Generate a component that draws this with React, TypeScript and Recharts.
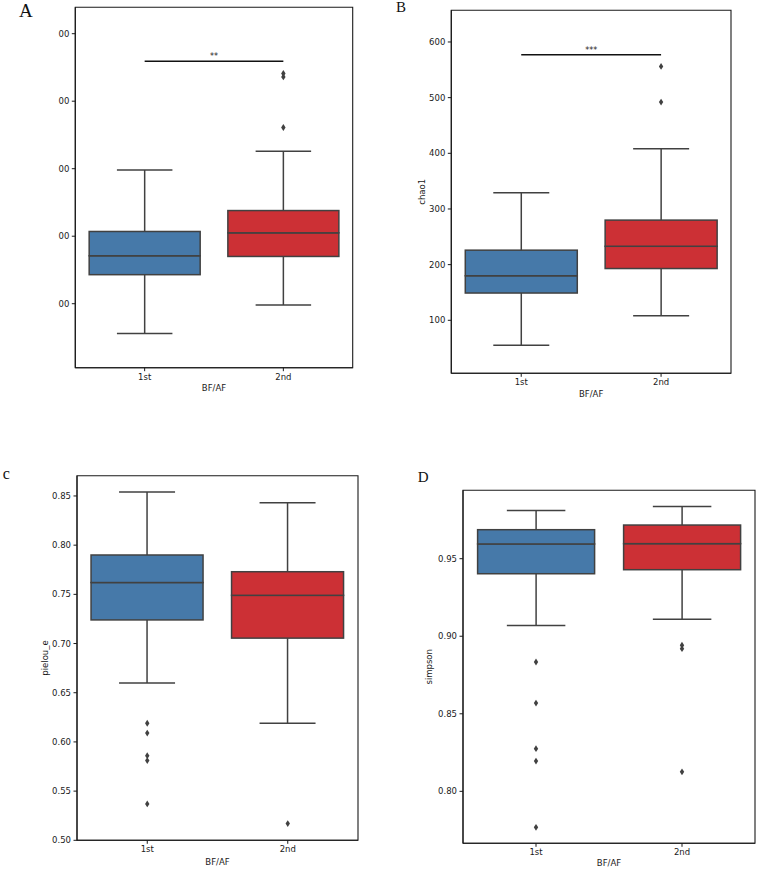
import React from "react";
import {
  ComposedChart,
  Bar,
  Cell,
  Scatter,
  XAxis,
  YAxis,
  ReferenceLine,
  ReferenceArea,
} from "recharts";

// ─── Data ─────────────────────────────────────────────────────────────────────

const GROUPS = ["1st", "2nd"];

// [low whisker, Q1, median, Q3, high whisker] per group
const A_STATS = [[56, 143, 171, 207, 298], [98, 170, 205, 238, 326]];
const A_OUTLIERS = [[], [436, 441, 361]];
const A_TICKS = [100, 200, 300, 400, 500];

const B_STATS = [[55, 149, 180, 226, 329], [108, 193, 233, 280, 408]];
const B_OUTLIERS = [[], [556, 492]];
const B_TICKS = [100, 200, 300, 400, 500, 600];

const C_STATS = [[0.660, 0.724, 0.762, 0.790, 0.854], [0.619, 0.7055, 0.749, 0.773, 0.843]];
const C_OUTLIERS = [[0.619, 0.609, 0.586, 0.581, 0.537], [0.517]];
const C_TICKS = [0.5, 0.55, 0.6, 0.65, 0.7, 0.75, 0.8, 0.85];

const D_STATS = [[0.907, 0.9403, 0.9595, 0.9687, 0.981], [0.911, 0.9429, 0.9597, 0.9717, 0.9836]];
const D_OUTLIERS = [[0.8834, 0.8569, 0.8275, 0.8195, 0.7768], [0.8942, 0.892, 0.8126]];
const D_TICKS = [0.8, 0.85, 0.9, 0.95];

// ─── Style ────────────────────────────────────────────────────────────────────

const BOX_COLORS = ["#4679a9", "#cc3035"];
const LINE = "#414141";
const INK = "#1a1a1a";
const FONT = "'DejaVu Sans', sans-serif";
const FS = 8.5;
const LW = 1.5;

const toRows = (stats: number[][]) =>
  stats.map(([lo, q1, med, q3, hi], i) => ({
    group: GROUPS[i],
    base: lo,
    wLow: q1 - lo,
    boxLow: med - q1,
    boxHigh: q3 - med,
    wHigh: hi - q3,
  }));

const toPoints = (outliers: number[][]) =>
  outliers.flatMap((vals, i) => vals.map((value) => ({ group: GROUPS[i], value })));

// ─── Shapes ───────────────────────────────────────────────────────────────────

const Hidden = () => <g />;

const WhiskerLow = (p: any) => {
  const cx = p.x + p.width / 2;
  const yb = p.y + p.height;
  return (
    <g>
      <line x1={cx} x2={cx} y1={p.y} y2={yb} stroke={LINE} strokeWidth={LW} />
      <line x1={cx - p.width / 4} x2={cx + p.width / 4} y1={yb} y2={yb} stroke={LINE} strokeWidth={LW} />
    </g>
  );
};

const WhiskerHigh = (p: any) => {
  const cx = p.x + p.width / 2;
  return (
    <g>
      <line x1={cx} x2={cx} y1={p.y} y2={p.y + p.height} stroke={LINE} strokeWidth={LW} />
      <line x1={cx - p.width / 4} x2={cx + p.width / 4} y1={p.y} y2={p.y} stroke={LINE} strokeWidth={LW} />
    </g>
  );
};

const BoxPart = (p: any) => (
  <rect x={p.x} y={p.y} width={p.width} height={p.height} fill={p.fill} stroke={LINE} strokeWidth={LW} />
);

const Diamond = (p: any) => {
  const { cx, cy } = p;
  return <path d={`M${cx},${cy - 3.4}L${cx + 2.2},${cy}L${cx},${cy + 3.4}L${cx - 2.2},${cy}Z`} fill={LINE} />;
};

// ─── Panel ────────────────────────────────────────────────────────────────────

interface PanelProps {
  left: number; top: number; width: number; height: number;
  margin: { top: number; right: number; bottom: number; left: number };
  yWidth: number; xHeight: number;
  stats: number[][]; outliers: number[][];
  domain: [number, number]; ticks: number[];
  fmt: (v: number) => string;
  yLabel?: string; yLabelOffset?: number; xLabelOffset: number;
  sig?: { y: number; text: string };
}

const Panel = (cfg: PanelProps) => {
  const rows = toRows(cfg.stats);
  const points = toPoints(cfg.outliers);
  const tick = { fill: INK, fontSize: FS, fontFamily: FONT };
  const lblStyle = { fill: INK, fontSize: FS, fontFamily: FONT };

  return (
    <div style={{ position: "absolute", left: cfg.left, top: cfg.top }}>
      <ComposedChart width={cfg.width} height={cfg.height} data={rows} margin={cfg.margin} barCategoryGap="10%">
        <XAxis
          dataKey="group"
          type="category"
          allowDuplicatedCategory={false}
          interval={0}
          height={cfg.xHeight}
          tick={tick}
          tickSize={3.5}
          tickMargin={2.5}
          tickLine={{ stroke: INK }}
          axisLine={{ stroke: INK, strokeWidth: 1.1 }}
          label={{ value: "BF/AF", position: "insideBottom", offset: cfg.xLabelOffset, style: lblStyle }}
        />
        <YAxis
          type="number"
          domain={cfg.domain}
          ticks={cfg.ticks}
          allowDataOverflow
          width={cfg.yWidth}
          tick={tick}
          tickFormatter={cfg.fmt}
          tickSize={3.5}
          tickMargin={2.5}
          tickLine={{ stroke: INK }}
          axisLine={{ stroke: INK, strokeWidth: 1.1 }}
          label={
            cfg.yLabel
              ? { value: cfg.yLabel, angle: -90, position: "insideLeft", offset: cfg.yLabelOffset, style: { ...lblStyle, textAnchor: "middle" } }
              : undefined
          }
        />

        <Bar dataKey="base" stackId="b" shape={Hidden} isAnimationActive={false} />
        <Bar dataKey="wLow" stackId="b" shape={WhiskerLow} isAnimationActive={false} />
        <Bar dataKey="boxLow" stackId="b" shape={BoxPart} isAnimationActive={false}>
          {rows.map((_r, i) => <Cell key={i} fill={BOX_COLORS[i]} />)}
        </Bar>
        <Bar dataKey="boxHigh" stackId="b" shape={BoxPart} isAnimationActive={false}>
          {rows.map((_r, i) => <Cell key={i} fill={BOX_COLORS[i]} />)}
        </Bar>
        <Bar dataKey="wHigh" stackId="b" shape={WhiskerHigh} isAnimationActive={false} />

        <Scatter data={points} dataKey="value" shape={Diamond} isAnimationActive={false} />

        {cfg.sig && (
          <ReferenceLine
            segment={[{ x: GROUPS[0], y: cfg.sig.y }, { x: GROUPS[1], y: cfg.sig.y }]}
            stroke="#111"
            strokeWidth={LW}
            label={{ value: cfg.sig.text, position: "top", offset: 2, style: { fill: INK, fontSize: 8, fontFamily: FONT } }}
          />
        )}

        <ReferenceArea
          x1={GROUPS[0]}
          x2={GROUPS[1]}
          y1={cfg.domain[0]}
          y2={cfg.domain[1]}
          fill="none"
          fillOpacity={0}
          stroke={INK}
          strokeWidth={1.1}
          ifOverflow="visible"
        />
      </ComposedChart>
    </div>
  );
};

const fmt2 = (v: number) => v.toFixed(2);

export default function App() {
  return (
    <div style={{ position: "absolute", left: 0, top: 0, width: 757, height: 869, background: "#fff" }}>
      {/* A — y tick labels cropped in the source figure */}
      <Panel
        left={0} top={0} width={380} height={400}
        margin={{ top: 7.3, right: 27.3, bottom: 2.3, left: 0 }}
        yWidth={75.3} xHeight={30}
        stats={A_STATS} outliers={A_OUTLIERS}
        domain={[5.2, 539.1]} ticks={A_TICKS}
        fmt={(v) => String(v).slice(-2)}
        xLabelOffset={6.7}
        sig={{ y: 459, text: "**" }}
      />
      <Panel
        left={380} top={0} width={377} height={405}
        margin={{ top: 10.3, right: 26, bottom: 1.7, left: 0 }}
        yWidth={71.3} xHeight={30}
        stats={B_STATS} outliers={B_OUTLIERS}
        domain={[4.8, 656.9]} ticks={B_TICKS}
        fmt={(v) => String(v)}
        yLabel="chao1" yLabelOffset={41.7}
        xLabelOffset={6}
        sig={{ y: 577, text: "***" }}
      />
      <Panel
        left={0} top={430} width={380} height={439}
        margin={{ top: 45.7, right: 22, bottom: 0.7, left: 0 }}
        yWidth={77} xHeight={28}
        stats={C_STATS} outliers={C_OUTLIERS}
        domain={[0.5, 0.8706]} ticks={C_TICKS}
        fmt={fmt2}
        yLabel="pielou_e" yLabelOffset={45}
        xLabelOffset={3.6}
      />
      <Panel
        left={380} top={430} width={377} height={439}
        margin={{ top: 60.3, right: 2, bottom: 0.7, left: 0 }}
        yWidth={83} xHeight={25}
        stats={D_STATS} outliers={D_OUTLIERS}
        domain={[0.7665, 0.9941]} ticks={D_TICKS}
        fmt={fmt2}
        yLabel="simpson" yLabelOffset={49.3}
        xLabelOffset={2}
      />

      {/* panel letters */}
      <svg width={757} height={869} style={{ position: "absolute", left: 0, top: 0, pointerEvents: "none" }}>
        <g fontFamily="'Liberation Serif', serif" fill="#111">
          <text x={19} y={16.7} fontSize={19}>A</text>
          <text x={396} y={12.3} fontSize={15}>B</text>
          <text x={2.7} y={479.3} fontSize={16}>c</text>
          <text x={417.7} y={481.7} fontSize={15}>D</text>
        </g>
      </svg>
    </div>
  );
}
